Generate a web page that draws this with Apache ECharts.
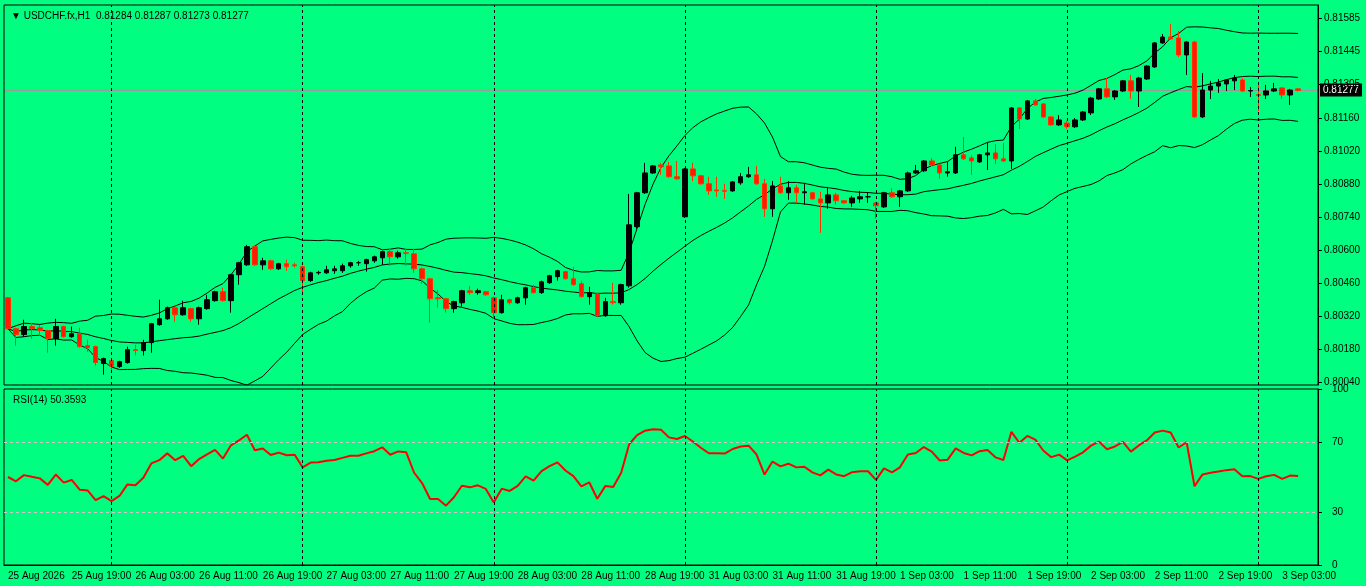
<!DOCTYPE html>
<html>
<head>
<meta charset="utf-8">
<script src="https://cdn.jsdelivr.net/npm/echarts@6/dist/echarts.min.js"></script>
<style>
html,body{margin:0;padding:0;background:#00ff80;}
#main{width:1366px;height:586px;}
</style>
</head>
<body>
<div id="main"></div>
<script>
// OHLC bars, USDCHF H1 — [open, close, low, high]
var bars = [
[.80397,.80266,.80262,.80401],[.80266,.80241,.80194,.80270],[.80241,.80275,.80232,.80304],[.80275,.80266,.80224,.80291],
[.80270,.80258,.80236,.80283],[.80258,.80224,.80164,.80262],[.80224,.80275,.80194,.80308],[.80275,.80232,.80228,.80279],
[.80232,.80245,.80228,.80275],[.80245,.80190,.80185,.80270],[.80194,.80185,.80168,.80219],[.80190,.80122,.80109,.80194],
[.80118,.80139,.80071,.80143],[.80130,.80105,.80079,.80135],[.80105,.80126,.80100,.80130],[.80122,.80177,.80118,.80190],
[.80177,.80173,.80152,.80198],[.80173,.80207,.80152,.80219],[.80207,.80287,.80164,.80291],[.80283,.80308,.80279,.80389],
[.80308,.80355,.80304,.80360],[.80355,.80325,.80296,.80360],[.80325,.80355,.80321,.80385],[.80351,.80308,.80296,.80355],
[.80308,.80355,.80283,.80360],[.80351,.80389,.80347,.80410],[.80385,.80423,.80381,.80427],[.80423,.80385,.80381,.80440],
[.80385,.80495,.80334,.80499],[.80495,.80546,.80453,.80550],[.80537,.80614,.80533,.80622],[.80614,.80537,.80533,.80618],
[.80537,.80554,.80516,.80567],[.80554,.80520,.80516,.80559],[.80520,.80542,.80516,.80546],[.80542,.80529,.80512,.80559],
[.80537,.80533,.80525,.80546],[.80529,.80470,.80419,.80533],[.80470,.80503,.80465,.80508],[.80503,.80505,.80495,.80512],
[.80503,.80516,.80499,.80533],[.80512,.80520,.80499,.80533],[.80512,.80533,.80503,.80542],[.80533,.80546,.80525,.80550],
[.80546,.80546,.80533,.80554],[.80542,.80559,.80508,.80563],[.80554,.80571,.80546,.80576],[.80567,.80593,.80537,.80597],
[.80593,.80571,.80533,.80605],[.80571,.80588,.80563,.80597],[.80588,.80586,.80533,.80605],[.80584,.80520,.80503,.80605],
[.80520,.80478,.80457,.80525],[.80478,.80393,.80291,.80482],[.80397,.80393,.80355,.80431],[.80393,.80351,.80334,.80397],
[.80351,.80381,.80334,.80385],[.80376,.80427,.80360,.80431],[.80427,.80419,.80410,.80448],[.80419,.80427,.80410,.80436],
[.80423,.80410,.80406,.80427],[.80397,.80334,.80308,.80402],[.80334,.80389,.80330,.80410],[.80389,.80376,.80368,.80393],
[.80376,.80397,.80372,.80402],[.80397,.80440,.80368,.80444],[.80440,.80419,.80414,.80453],[.80419,.80465,.80414,.80470],
[.80461,.80491,.80457,.80495],[.80487,.80512,.80470,.80516],[.80508,.80478,.80474,.80512],[.80478,.80453,.80448,.80529],
[.80457,.80402,.80397,.80470],[.80402,.80419,.80368,.80444],[.80414,.80321,.80317,.80419],[.80321,.80381,.80317,.80397],
[.80381,.80376,.80368,.80461],[.80376,.80453,.80368,.80457],[.80448,.80707,.80440,.80838],[.80699,.80843,.80690,.80847],
[.80843,.80927,.80838,.80970],[.80927,.80957,.80923,.80961],[.80961,.80953,.80919,.80970],[.80957,.80911,.80906,.80974],
[.80911,.80902,.80898,.80978],[.80741,.80944,.80736,.80948],[.80944,.80915,.80893,.80970],[.80915,.80881,.80877,.80919],
[.80881,.80851,.80834,.80911],[.80855,.80851,.80826,.80911],[.80853,.80849,.80817,.80881],[.80851,.80889,.80847,.80893],
[.80885,.80911,.80877,.80927],[.80911,.80919,.80906,.80953],[.80919,.80881,.80877,.80957],[.80881,.80775,.80741,.80902],
[.80775,.80872,.80741,.80893],[.80872,.80843,.80838,.80911],[.80843,.80864,.80813,.80893],[.80864,.80843,.80800,.80877],
[.80843,.80847,.80792,.80885],[.80843,.80817,.80813,.80847],[.80817,.80800,.80673,.80847],[.80800,.80834,.80775,.80868],
[.80834,.80809,.80792,.80843],[.80809,.80800,.80796,.80813],[.80800,.80821,.80783,.80830],[.80817,.80826,.80800,.80851],
[.80826,.80826,.80800,.80843],[.80800,.80788,.80732,.80805],[.80783,.80843,.80779,.80847],[.80843,.80826,.80821,.80864],
[.80826,.80851,.80783,.80855],[.80851,.80927,.80847,.80932],[.80927,.80936,.80923,.80961],[.80936,.80978,.80932,.80982],
[.80978,.80961,.80957,.80991],[.80961,.80927,.80902,.80965],[.80927,.80932,.80911,.80974],[.80927,.81004,.80923,.81038],
[.81004,.80987,.80982,.81080],[.80991,.80978,.80919,.81004],[.80974,.81004,.80970,.81008],[.81004,.81012,.80940,.81055],
[.81012,.80987,.80965,.81050],[.80987,.80978,.80974,.81055],[.80978,.81203,.80944,.81207],[.81203,.81156,.81114,.81207],
[.81156,.81233,.81152,.81237],[.81233,.81216,.81212,.81241],[.81220,.81165,.81160,.81224],[.81165,.81131,.81127,.81169],
[.81131,.81152,.81127,.81173],[.81139,.81123,.81114,.81148],[.81123,.81152,.81118,.81160],[.81152,.81186,.81148,.81190],
[.81182,.81245,.81173,.81250],[.81241,.81284,.81237,.81288],[.81284,.81250,.81245,.81330],[.81250,.81275,.81237,.81279],
[.81275,.81318,.81271,.81322],[.81318,.81275,.81241,.81343],[.81275,.81330,.81207,.81335],[.81326,.81381,.81322,.81385],
[.81377,.81479,.81373,.81483],[.81479,.81504,.81475,.81517],[.81504,.81496,.81492,.81559],[.81500,.81428,.81419,.81530],
[.81428,.81483,.81343,.81487],[.81483,.81165,.81160,.81487],[.81165,.81279,.81160,.81351],[.81279,.81296,.81241,.81318],
[.81296,.81309,.81267,.81326],[.81305,.81322,.81275,.81326],[.81318,.81330,.81279,.81343],[.81322,.81275,.81271,.81330],
[.81275,.81277,.81250,.81292],[.81260,.81256,.81190,.81301],[.81258,.81275,.81241,.81301],[.81275,.81284,.81271,.81309],
[.81288,.81258,.81241,.81292],[.81258,.81279,.81216,.81284],[.81284,.81277,.81273,.81287]
];
var priceTicks = [0.80040,0.80180,0.80320,0.80460,0.80600,0.80740,0.80880,0.81020,0.81160,0.81305,0.81445,0.81585];
var rsiTicks = [0,30,70,100];
var lastPrice = 0.81277;
var dayStarts = [13,37,61,85,109,133,157];
var rightPadBars = 2;
var rsiSeedMove = 0.0004; // average hourly move assumed before the first bar

// hourly timestamps, weekend skipped after bar 84
var months = ['Jan','Feb','Mar','Apr','May','Jun','Jul','Aug','Sep','Oct','Nov','Dec'];
var times = [];
for (var i = 0; i < bars.length + rightPadBars; i++) {
  var t = i < 85 ? Date.UTC(2026,7,25,11) + i*3600e3 : Date.UTC(2026,7,31,0) + (i-85)*3600e3;
  var d = new Date(t);
  var hh = ('0'+d.getUTCHours()).slice(-2);
  times.push(i === 0 ? d.getUTCDate()+' '+months[d.getUTCMonth()]+' 2026' : d.getUTCDate()+' '+months[d.getUTCMonth()]+' '+hh+':00');
}

// Bollinger(20,2) and RSI(14) from closes
var closes = bars.map(function(b){return b[1];});
var bbU = [], bbM = [], bbL = [];
for (var i = 0; i < closes.length; i++) {
  var s = Math.max(0, i-19), w = closes.slice(s, i+1);
  var m = w.reduce(function(a,b){return a+b;},0)/w.length;
  var sd = Math.sqrt(w.reduce(function(a,b){return a+(b-m)*(b-m);},0)/w.length);
  bbM.push(+m.toFixed(6)); bbU.push(+(m+2*sd).toFixed(6)); bbL.push(+(m-2*sd).toFixed(6));
}
var rsi = [];
var ag = rsiSeedMove/2, al = rsiSeedMove/2;
for (var i = 0; i < closes.length; i++) {
  var ch = i === 0 ? 0 : closes[i]-closes[i-1];
  ag = (ag*13+Math.max(ch,0))/14; al = (al*13+Math.max(-ch,0))/14;
  rsi.push(+(100-100/(1+ag/al)).toFixed(2));
}

var vlines = dayStarts.map(function(k){return {xAxis:k};});
var dashStyle = {color:'#000', type:[3,3], width:1};

var chart = echarts.init(document.getElementById('main'));
chart.setOption({
  backgroundColor:'#00ff80',
  animation:false,
  title:[
    {text:'▼ USDCHF.fx,H1  0.81284 0.81287 0.81273 0.81277', left:6, top:6, textStyle:{fontSize:10, fontWeight:'normal', color:'#000', fontFamily:'Liberation Sans'}},
    {text:'RSI(14) 50.3593', left:8, top:390, textStyle:{fontSize:10, fontWeight:'normal', color:'#000', fontFamily:'Liberation Sans'}}
  ],
  grid:[
    {left:4, right:48, top:5, height:380, show:true, borderColor:'#000', borderWidth:1, backgroundColor:'transparent'},
    {left:4, right:48, top:389, height:176, show:true, borderColor:'#000', borderWidth:1, backgroundColor:'transparent'}
  ],
  xAxis:[
    {type:'category', gridIndex:0, data:times, boundaryGap:true, axisLine:{show:false}, axisTick:{show:false}, axisLabel:{show:false}, splitLine:{show:false}},
    {type:'category', gridIndex:1, data:times, boundaryGap:true,
     axisLine:{lineStyle:{color:'#000'}},
     axisTick:{interval:7, alignWithLabel:true, lineStyle:{color:'#000'}, length:4},
     axisLabel:{interval:7, align:'left', margin:6, fontSize:10, color:'#000', fontFamily:'Liberation Sans'},
     splitLine:{show:false}}
  ],
  yAxis:[
    {type:'value', gridIndex:0, position:'right', min:0.80027, max:0.81640, scale:true,
     axisLine:{show:true, lineStyle:{color:'#000'}},
     axisTick:{show:true, customValues:priceTicks, lineStyle:{color:'#000'}, length:4},
     axisLabel:{customValues:priceTicks, formatter:function(v){return v.toFixed(5);}, margin:6, fontSize:10, color:'#000', fontFamily:'Liberation Sans'},
     splitLine:{show:false}},
    {type:'value', gridIndex:1, position:'right', min:0, max:100,
     axisLine:{show:true, lineStyle:{color:'#000'}},
     axisTick:{show:true, customValues:rsiTicks, lineStyle:{color:'#000'}, length:4},
     axisLabel:{customValues:rsiTicks, margin:14, fontSize:10, color:'#000', fontFamily:'Liberation Sans'},
     splitLine:{show:false}}
  ],
  series:[
    {type:'candlestick', xAxisIndex:0, yAxisIndex:0, data:bars, barWidth:5, z:3,
     itemStyle:{color:'#000', color0:'#ff1a00', borderColor:'#000', borderColor0:'#ff3300', borderWidth:1}},
    {type:'line', xAxisIndex:0, yAxisIndex:0, data:bbU, showSymbol:false, lineStyle:{color:'#000', width:1},
     markLine:{symbol:'none', silent:true, label:{show:false}, data:vlines.map(function(v){return {xAxis:v.xAxis, lineStyle:dashStyle};})}},
    {type:'line', xAxisIndex:0, yAxisIndex:0, data:bbM, showSymbol:false, lineStyle:{color:'#000', width:1}},
    {type:'line', xAxisIndex:0, yAxisIndex:0, data:bbL, showSymbol:false, lineStyle:{color:'#000', width:1}},
    {type:'line', xAxisIndex:1, yAxisIndex:1, data:rsi, showSymbol:false, lineStyle:{color:'#ff0000', width:2},
     markLine:{symbol:'none', silent:true, label:{show:false}, data:vlines.map(function(v){return {xAxis:v.xAxis, lineStyle:dashStyle};}).concat([
       {yAxis:70, lineStyle:{color:'#c8c8c8', type:[3,3], width:1}},
       {yAxis:30, lineStyle:{color:'#c8c8c8', type:[3,3], width:1}}
     ])}}
  ]
});
// last-price line and tag, placed through the price axis
var tagY = chart.convertToPixel({yAxisIndex:0}, lastPrice);
chart.setOption({graphic:[
  {type:'line', shape:{x1:5, y1:tagY, x2:1317, y2:tagY}, style:{stroke:'#9a9a9a', lineWidth:1}, z:0, silent:true},
  {type:'group', left:1320, top:tagY-7, children:[
    {type:'rect', shape:{x:0, y:0, width:42, height:13}, style:{fill:'#000'}},
    {type:'text', style:{x:3, y:1.5, text:'0.81277', fill:'#fff', font:'10px Liberation Sans'}}
  ]}
]});
</script>
</body>
</html>
